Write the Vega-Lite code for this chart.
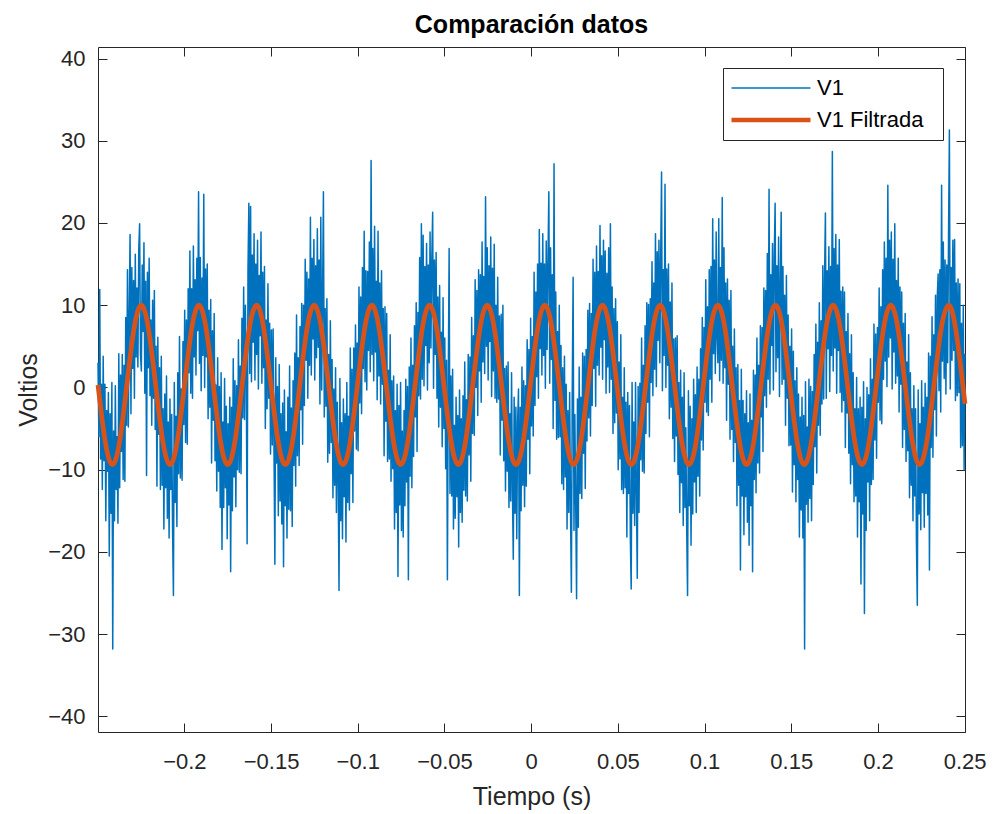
{
"$schema": "https://vega.github.io/schema/vega-lite/v6.json",
"width": 867, "height": 685,
"autosize": {"type": "none"},
"padding": {"left": 98, "top": 47, "right": 30, "bottom": 82},
"background": "white",
"title": {"text": "Comparación datos", "font": "Liberation Sans", "fontSize": 25, "fontWeight": "bold", "color": "#000000", "anchor": "middle", "frame": "group", "baseline": "alphabetic", "offset": -11},
"config": {
  "view": {"stroke": null},
  "axis": {"domainColor": "#262626", "tickColor": "#262626", "labelColor": "#262626", "titleColor": "#262626", "labelFont": "Liberation Sans", "titleFont": "Liberation Sans", "labelFontSize": 22, "titleFontSize": 25, "titleFontWeight": "normal", "grid": false, "tickSize": -9, "tickWidth": 1, "domainWidth": 1, "labelFlush": false, "labelOverlap": false}
},
"datasets": {
"raw": [
{"t":-0.2498,"v":3.0},{"t":-0.2493,"v":-6.0},{"t":-0.2488,"v":11.9},{"t":-0.2483,"v":-8.7},{"t":-0.2478,"v":0.4},{"t":-0.2473,"v":-12.4},{"t":-0.2468,"v":3.8},{"t":-0.2463,"v":-8.9},{"t":-0.2458,"v":0.4},{"t":-0.2453,"v":-16.2},
{"t":-0.2448,"v":-2.8},{"t":-0.2443,"v":-10.2},{"t":-0.2438,"v":-0.6},{"t":-0.2433,"v":-20.5},{"t":-0.2428,"v":-3.2},{"t":-0.2423,"v":-15.3},{"t":-0.2418,"v":0.6},{"t":-0.2413,"v":-31.8},{"t":-0.2408,"v":-5.3},{"t":-0.2403,"v":-16.2},
{"t":-0.2398,"v":0.2},{"t":-0.2393,"v":-12.4},{"t":-0.2388,"v":-6.0},{"t":-0.2383,"v":-16.5},{"t":-0.2378,"v":4.1},{"t":-0.2373,"v":-12.2},{"t":-0.2368,"v":1.5},{"t":-0.2363,"v":-7.8},{"t":-0.2358,"v":4.0},{"t":-0.2353,"v":-11.2},
{"t":-0.2348,"v":2.7},{"t":-0.2343,"v":-11.4},{"t":-0.2338,"v":8.5},{"t":-0.2333,"v":-4.6},{"t":-0.2328,"v":14.3},{"t":-0.2323,"v":-4.8},{"t":-0.2318,"v":9.1},{"t":-0.2313,"v":18.6},{"t":-0.2308,"v":-3.2},{"t":-0.2303,"v":14.6},
{"t":-0.2298,"v":2.3},{"t":-0.2293,"v":13.0},{"t":-0.2288,"v":-1.3},{"t":-0.2283,"v":16.2},{"t":-0.2278,"v":3.7},{"t":-0.2273,"v":12.1},{"t":-0.2268,"v":2.5},{"t":-0.2263,"v":16.7},{"t":-0.2258,"v":19.9},{"t":-0.2253,"v":4.0},
{"t":-0.2248,"v":2.0},{"t":-0.2243,"v":14.9},{"t":-0.2238,"v":6.8},{"t":-0.2233,"v":17.6},{"t":-0.2228,"v":-0.7},{"t":-0.2223,"v":12.9},{"t":-0.2218,"v":-10.7},{"t":-0.2213,"v":14.0},{"t":-0.2208,"v":2.4},{"t":-0.2203,"v":15.7},
{"t":-0.2198,"v":-1.0},{"t":-0.2193,"v":8.2},{"t":-0.2188,"v":-4.6},{"t":-0.2183,"v":10.6},{"t":-0.2178,"v":-1.3},{"t":-0.2173,"v":11.8},{"t":-0.2168,"v":-5.1},{"t":-0.2163,"v":5.0},{"t":-0.2158,"v":-12.0},{"t":-0.2153,"v":6.1},
{"t":-0.2148,"v":-5.7},{"t":-0.2143,"v":2.4},{"t":-0.2138,"v":-12.4},{"t":-0.2133,"v":3.8},{"t":-0.2128,"v":-11.9},{"t":-0.2123,"v":-2.6},{"t":-0.2118,"v":-17.2},{"t":-0.2113,"v":-0.8},{"t":-0.2108,"v":-12.2},{"t":-0.2103,"v":1.4},
{"t":-0.2098,"v":-15.9},{"t":-0.2093,"v":-4.2},{"t":-0.2088,"v":-18.3},{"t":-0.2083,"v":-1.4},{"t":-0.2078,"v":-12.4},{"t":-0.2073,"v":-3.3},{"t":-0.2068,"v":-17.2},{"t":-0.2063,"v":-25.3},{"t":-0.2058,"v":0.6},{"t":-0.2053,"v":-14.0},
{"t":-0.2048,"v":-3.5},{"t":-0.2043,"v":-16.9},{"t":-0.2038,"v":1.8},{"t":-0.2033,"v":-10.5},{"t":-0.2028,"v":6.2},{"t":-0.2023,"v":-11.0},{"t":-0.2018,"v":-0.2},{"t":-0.2013,"v":-11.3},{"t":-0.2008,"v":5.6},{"t":-0.2003,"v":-4.5},
{"t":-0.1998,"v":9.4},{"t":-0.1993,"v":-6.7},{"t":-0.1988,"v":8.2},{"t":-0.1983,"v":-6.9},{"t":-0.1978,"v":12.0},{"t":-0.1973,"v":1.8},{"t":-0.1968,"v":16.6},{"t":-0.1963,"v":-0.7},{"t":-0.1958,"v":12.0},{"t":-0.1953,"v":-1.3},
{"t":-0.1948,"v":17.2},{"t":-0.1943,"v":3.7},{"t":-0.1938,"v":13.1},{"t":-0.1933,"v":1.5},{"t":-0.1928,"v":15.7},{"t":-0.1923,"v":6.9},{"t":-0.1918,"v":23.8},{"t":-0.1913,"v":2.9},{"t":-0.1908,"v":15.8},{"t":-0.1903,"v":-0.4},
{"t":-0.1898,"v":13.3},{"t":-0.1893,"v":3.9},{"t":-0.1888,"v":23.5},{"t":-0.1883,"v":0.0},{"t":-0.1878,"v":14.4},{"t":-0.1873,"v":3.7},{"t":-0.1868,"v":15.0},{"t":-0.1863,"v":-3.8},{"t":-0.1858,"v":9.4},{"t":-0.1853,"v":-2.4},
{"t":-0.1848,"v":10.7},{"t":-0.1843,"v":-9.2},{"t":-0.1838,"v":6.9},{"t":-0.1833,"v":-4.0},{"t":-0.1828,"v":9.0},{"t":-0.1823,"v":-8.9},{"t":-0.1818,"v":0.3},{"t":-0.1813,"v":-12.6},{"t":-0.1808,"v":3.6},{"t":-0.1803,"v":-10.2},
{"t":-0.1798,"v":0.1},{"t":-0.1793,"v":-14.6},{"t":-0.1788,"v":1.8},{"t":-0.1783,"v":-19.7},{"t":-0.1778,"v":-4.2},{"t":-0.1773,"v":-14.6},{"t":-0.1768,"v":1.1},{"t":-0.1763,"v":-12.2},{"t":-0.1758,"v":-2.3},{"t":-0.1753,"v":-18.4},
{"t":-0.1748,"v":-4.4},{"t":-0.1743,"v":-14.3},{"t":-0.1738,"v":-1.2},{"t":-0.1733,"v":-22.4},{"t":-0.1728,"v":-2.4},{"t":-0.1723,"v":-15.0},{"t":-0.1718,"v":3.5},{"t":-0.1713,"v":-10.9},{"t":-0.1708,"v":0.8},{"t":-0.1703,"v":-14.5},
{"t":-0.1698,"v":0.2},{"t":-0.1693,"v":-10.0},{"t":-0.1688,"v":5.8},{"t":-0.1683,"v":-10.3},{"t":-0.1678,"v":2.6},{"t":-0.1673,"v":-10.5},{"t":-0.1668,"v":8.4},{"t":-0.1663,"v":-3.7},{"t":-0.1658,"v":12.2},{"t":-0.1653,"v":-3.9},
{"t":-0.1648,"v":10.0},{"t":-0.1643,"v":1.8},{"t":-0.1638,"v":-19.0},{"t":-0.1633,"v":14.3},{"t":-0.1628,"v":22.4},{"t":-0.1623,"v":1.7},{"t":-0.1618,"v":22.0},{"t":-0.1613,"v":0.7},{"t":-0.1608,"v":16.1},{"t":-0.1603,"v":5.5},
{"t":-0.1598,"v":18.7},{"t":-0.1593,"v":0.9},{"t":-0.1588,"v":15.0},{"t":-0.1583,"v":4.0},{"t":-0.1578,"v":17.9},{"t":-0.1573,"v":-0.2},{"t":-0.1568,"v":13.6},{"t":-0.1563,"v":6.3},{"t":-0.1558,"v":18.9},{"t":-0.1553,"v":0.5},
{"t":-0.1548,"v":14.0},{"t":-0.1543,"v":2.4},{"t":-0.1538,"v":14.7},{"t":-0.1533,"v":-5.0},{"t":-0.1528,"v":8.2},{"t":-0.1523,"v":-2.6},{"t":-0.1518,"v":12.6},{"t":-0.1513,"v":-1.3},{"t":-0.1508,"v":7.8},{"t":-0.1503,"v":-8.1},
{"t":-0.1498,"v":7.0},{"t":-0.1493,"v":-7.0},{"t":-0.1488,"v":7.1},{"t":-0.1483,"v":-7.7},{"t":-0.1478,"v":-21.5},{"t":-0.1473,"v":3.6},{"t":-0.1468,"v":-9.2},{"t":-0.1463,"v":0.1},{"t":-0.1458,"v":-15.6},{"t":-0.1453,"v":2.8},
{"t":-0.1448,"v":-13.8},{"t":-0.1443,"v":-3.2},{"t":-0.1438,"v":-16.6},{"t":-0.1433,"v":-1.9},{"t":-0.1428,"v":-21.8},{"t":-0.1423,"v":-0.3},{"t":-0.1418,"v":-14.4},{"t":-0.1413,"v":-5.4},{"t":-0.1408,"v":-18.3},{"t":-0.1403,"v":-1.2},
{"t":-0.1398,"v":-14.8},{"t":-0.1393,"v":2.6},{"t":-0.1388,"v":-15.0},{"t":-0.1383,"v":-2.5},{"t":-0.1378,"v":-16.9},{"t":-0.1373,"v":0.8},{"t":-0.1368,"v":-9.5},{"t":-0.1363,"v":4.2},{"t":-0.1358,"v":-12.0},{"t":-0.1353,"v":8.8},
{"t":-0.1348,"v":-8.3},{"t":-0.1343,"v":3.6},{"t":-0.1338,"v":-9.5},{"t":-0.1333,"v":7.4},{"t":-0.1328,"v":-2.7},{"t":-0.1323,"v":10.2},{"t":-0.1318,"v":-6.9},{"t":-0.1313,"v":10.0},{"t":-0.1308,"v":-2.2},{"t":-0.1303,"v":15.6},
{"t":-0.1298,"v":3.3},{"t":-0.1293,"v":14.0},{"t":-0.1288,"v":-1.3},{"t":-0.1283,"v":13.2},{"t":-0.1278,"v":2.7},{"t":-0.1273,"v":20.7},{"t":-0.1268,"v":1.5},{"t":-0.1263,"v":15.7},{"t":-0.1258,"v":5.9},{"t":-0.1253,"v":18.0},
{"t":-0.1248,"v":0.9},{"t":-0.1243,"v":14.8},{"t":-0.1238,"v":3.6},{"t":-0.1233,"v":19.3},{"t":-0.1228,"v":4.9},{"t":-0.1223,"v":15.5},{"t":-0.1218,"v":-2.0},{"t":-0.1213,"v":20.7},{"t":-0.1208,"v":-0.3},{"t":-0.1203,"v":11.0},
{"t":-0.1198,"v":23.8},{"t":-0.1193,"v":-3.6},{"t":-0.1188,"v":9.6},{"t":-0.1183,"v":-2.3},{"t":-0.1178,"v":10.8},{"t":-0.1173,"v":-9.1},{"t":-0.1168,"v":4.0},{"t":-0.1163,"v":-8.0},{"t":-0.1158,"v":8.1},{"t":-0.1153,"v":-6.7},
{"t":-0.1148,"v":3.4},{"t":-0.1143,"v":-13.4},{"t":-0.1138,"v":-0.2},{"t":-0.1133,"v":-11.9},{"t":-0.1128,"v":2.4},{"t":-0.1123,"v":-15.2},{"t":-0.1118,"v":-1.8},{"t":-0.1113,"v":-11.2},{"t":-0.1108,"v":-24.7},{"t":-0.1103,"v":1.1},
{"t":-0.1098,"v":-16.2},{"t":-0.1093,"v":-4.3},{"t":-0.1088,"v":-18.4},{"t":-0.1083,"v":-1.4},{"t":-0.1078,"v":-13.3},{"t":-0.1073,"v":-3.2},{"t":-0.1068,"v":-18.8},{"t":-0.1063,"v":0.6},{"t":-0.1058,"v":-14.0},{"t":-0.1053,"v":-3.5},
{"t":-0.1048,"v":-14.9},{"t":-0.1043,"v":4.8},{"t":-0.1038,"v":-10.5},{"t":-0.1033,"v":2.2},{"t":-0.1028,"v":-14.0},{"t":-0.1023,"v":4.8},{"t":-0.1018,"v":-5.3},{"t":-0.1013,"v":7.6},{"t":-0.1008,"v":-7.5},{"t":-0.1003,"v":5.4},
{"t":-0.0998,"v":-7.7},{"t":-0.0993,"v":12.2},{"t":-0.0988,"v":-1.9},{"t":-0.0983,"v":11.0},{"t":-0.0978,"v":-3.2},{"t":-0.0973,"v":14.6},{"t":-0.0968,"v":2.3},{"t":-0.0963,"v":19.0},{"t":-0.0958,"v":0.7},{"t":-0.0953,"v":14.2},
{"t":-0.0948,"v":-0.3},{"t":-0.0943,"v":14.1},{"t":-0.0938,"v":4.5},{"t":-0.0933,"v":17.7},{"t":-0.0928,"v":1.9},{"t":-0.0923,"v":27.6},{"t":-0.0918,"v":4.0},{"t":-0.0913,"v":16.9},{"t":-0.0908,"v":0.8},{"t":-0.0903,"v":19.6},
{"t":-0.0898,"v":4.3},{"t":-0.0893,"v":12.9},{"t":-0.0888,"v":-1.5},{"t":-0.0883,"v":19.0},{"t":-0.0878,"v":1.4},{"t":-0.0873,"v":12.7},{"t":-0.0868,"v":-2.0},{"t":-0.0863,"v":14.2},{"t":-0.0858,"v":0.4},{"t":-0.0853,"v":9.6},
{"t":-0.0848,"v":-8.3},{"t":-0.0843,"v":9.8},{"t":-0.0838,"v":-4.1},{"t":-0.0833,"v":9.0},{"t":-0.0828,"v":-9.0},{"t":-0.0823,"v":2.1},{"t":-0.0818,"v":-8.7},{"t":-0.0813,"v":6.4},{"t":-0.0808,"v":-11.4},{"t":-0.0803,"v":0.8},
{"t":-0.0798,"v":-9.9},{"t":-0.0793,"v":1.4},{"t":-0.0788,"v":-17.2},{"t":-0.0783,"v":-2.8},{"t":-0.0778,"v":-15.2},{"t":-0.0773,"v":0.4},{"t":-0.0768,"v":-23.0},{"t":-0.0763,"v":-2.2},{"t":-0.0758,"v":-14.3},{"t":-0.0753,"v":0.6},
{"t":-0.0748,"v":-17.4},{"t":-0.0743,"v":-5.3},{"t":-0.0738,"v":-18.2},{"t":-0.0733,"v":-2.8},{"t":-0.0728,"v":-14.4},{"t":-0.0723,"v":1.0},{"t":-0.0718,"v":-11.5},{"t":-0.0713,"v":0.1},{"t":-0.0708,"v":-23.4},{"t":-0.0703,"v":2.5},
{"t":-0.0698,"v":-10.8},{"t":-0.0693,"v":6.0},{"t":-0.0688,"v":-12.2},{"t":-0.0683,"v":2.7},{"t":-0.0678,"v":-8.4},{"t":-0.0673,"v":7.5},{"t":-0.0668,"v":-3.6},{"t":-0.0663,"v":10.3},{"t":-0.0658,"v":-7.8},{"t":-0.0653,"v":9.1},
{"t":-0.0648,"v":-1.0},{"t":-0.0643,"v":15.8},{"t":-0.0638,"v":-1.4},{"t":-0.0633,"v":19.9},{"t":-0.0628,"v":1.0},{"t":-0.0623,"v":18.5},{"t":-0.0618,"v":0.2},{"t":-0.0613,"v":14.7},{"t":-0.0608,"v":5.1},{"t":-0.0603,"v":17.5},
{"t":-0.0598,"v":-0.3},{"t":-0.0593,"v":14.9},{"t":-0.0588,"v":3.0},{"t":-0.0583,"v":18.9},{"t":-0.0578,"v":4.8},{"t":-0.0573,"v":15.6},{"t":-0.0568,"v":21.3},{"t":-0.0563,"v":-0.1},{"t":-0.0558,"v":15.5},{"t":-0.0553,"v":4.0},
{"t":-0.0548,"v":16.4},{"t":-0.0543,"v":-1.3},{"t":-0.0538,"v":11.0},{"t":-0.0533,"v":-4.8},{"t":-0.0528,"v":12.4},{"t":-0.0523,"v":-2.4},{"t":-0.0518,"v":6.7},{"t":-0.0513,"v":-7.2},{"t":-0.0508,"v":10.9},{"t":-0.0503,"v":-5.0},
{"t":-0.0498,"v":6.0},{"t":-0.0493,"v":-9.9},{"t":-0.0488,"v":3.3},{"t":-0.0483,"v":-23.4},{"t":-0.0478,"v":0.6},{"t":-0.0473,"v":16.9},{"t":-0.0468,"v":-12.9},{"t":-0.0463,"v":1.4},{"t":-0.0458,"v":-13.2},{"t":-0.0453,"v":2.2},
{"t":-0.0448,"v":-17.2},{"t":-0.0443,"v":-4.6},{"t":-0.0438,"v":-15.9},{"t":-0.0433,"v":-1.2},{"t":-0.0428,"v":-13.3},{"t":-0.0423,"v":-3.4},{"t":-0.0418,"v":-19.4},{"t":-0.0413,"v":-0.3},{"t":-0.0408,"v":-15.2},{"t":-0.0403,"v":-3.8},
{"t":-0.0398,"v":-16.4},{"t":-0.0393,"v":-1.0},{"t":-0.0388,"v":-12.5},{"t":-0.0383,"v":3.1},{"t":-0.0378,"v":-13.2},{"t":-0.0373,"v":-1.5},{"t":-0.0368,"v":-13.8},{"t":-0.0363,"v":4.0},{"t":-0.0358,"v":-8.2},{"t":-0.0353,"v":3.7},
{"t":-0.0348,"v":-11.4},{"t":-0.0343,"v":8.5},{"t":-0.0338,"v":-5.6},{"t":-0.0333,"v":6.3},{"t":-0.0328,"v":-5.8},{"t":-0.0323,"v":13.1},{"t":-0.0318,"v":0.0},{"t":-0.0313,"v":11.8},{"t":-0.0308,"v":-3.4},{"t":-0.0303,"v":14.3},
{"t":-0.0298,"v":2.0},{"t":-0.0293,"v":13.7},{"t":-0.0288,"v":-1.8},{"t":-0.0283,"v":17.7},{"t":-0.0278,"v":3.1},{"t":-0.0273,"v":13.5},{"t":-0.0268,"v":1.7},{"t":-0.0263,"v":23.2},{"t":-0.0258,"v":5.0},{"t":-0.0253,"v":17.0},
{"t":-0.0248,"v":0.9},{"t":-0.0243,"v":14.8},{"t":-0.0238,"v":5.6},{"t":-0.0233,"v":18.3},{"t":-0.0228,"v":-1.1},{"t":-0.0223,"v":14.5},{"t":-0.0218,"v":2.0},{"t":-0.0213,"v":17.4},{"t":-0.0208,"v":-1.3},{"t":-0.0203,"v":10.0},
{"t":-0.0198,"v":-1.8},{"t":-0.0193,"v":13.4},{"t":-0.0188,"v":-1.4},{"t":-0.0183,"v":8.7},{"t":-0.0178,"v":-8.2},{"t":-0.0173,"v":8.9},{"t":-0.0168,"v":-4.0},{"t":-0.0163,"v":10.0},{"t":-0.0158,"v":-8.9},{"t":-0.0153,"v":2.3},
{"t":-0.0148,"v":-12.6},{"t":-0.0143,"v":2.6},{"t":-0.0138,"v":-10.2},{"t":-0.0133,"v":3.1},{"t":-0.0128,"v":-14.6},{"t":-0.0123,"v":-3.2},{"t":-0.0118,"v":-13.8},{"t":-0.0113,"v":1.8},{"t":-0.0108,"v":-12.6},{"t":-0.0103,"v":-20.9},
{"t":-0.0098,"v":-1.2},{"t":-0.0093,"v":-15.3},{"t":-0.0088,"v":-2.4},{"t":-0.0083,"v":-18.4},{"t":-0.0078,"v":-4.3},{"t":-0.0073,"v":-0.2},{"t":-0.0068,"v":-25.3},{"t":-0.0063,"v":-2.4},{"t":-0.0058,"v":-15.0},{"t":-0.0053,"v":2.5},
{"t":-0.0048,"v":-11.9},{"t":-0.0043,"v":0.8},{"t":-0.0038,"v":-14.5},{"t":-0.0033,"v":0.2},{"t":-0.0028,"v":-12.0},{"t":-0.0023,"v":5.8},{"t":-0.0018,"v":-6.3},{"t":-0.0013,"v":4.6},{"t":-0.0008,"v":-10.5},{"t":-0.0003,"v":8.4},
{"t":0.0002,"v":-4.7},{"t":0.0007,"v":6.2},{"t":0.0012,"v":-5.9},{"t":0.0017,"v":14.0},{"t":0.0022,"v":-2.2},{"t":0.0027,"v":11.6},{"t":0.0032,"v":1.3},{"t":0.0037,"v":15.0},{"t":0.0042,"v":-1.3},{"t":0.0047,"v":19.2},
{"t":0.0052,"v":4.7},{"t":0.0057,"v":15.1},{"t":0.0062,"v":1.5},{"t":0.0067,"v":18.7},{"t":0.0072,"v":3.9},{"t":0.0077,"v":15.0},{"t":0.0082,"v":-0.1},{"t":0.0087,"v":17.8},{"t":0.0092,"v":4.6},{"t":0.0097,"v":15.3},
{"t":0.0102,"v":23.8},{"t":0.0107,"v":0.5},{"t":0.0112,"v":17.0},{"t":0.0117,"v":3.4},{"t":0.0122,"v":13.7},{"t":0.0127,"v":-5.0},{"t":0.0132,"v":27.2},{"t":0.0137,"v":-1.6},{"t":0.0142,"v":11.6},{"t":0.0147,"v":-6.3},
{"t":0.0152,"v":6.8},{"t":0.0157,"v":-6.1},{"t":0.0162,"v":10.0},{"t":0.0167,"v":-6.0},{"t":0.0172,"v":5.1},{"t":0.0177,"v":-11.7},{"t":0.0182,"v":2.4},{"t":0.0187,"v":-12.4},{"t":0.0192,"v":3.8},{"t":0.0197,"v":-10.9},
{"t":0.0202,"v":0.4},{"t":0.0207,"v":-17.2},{"t":0.0212,"v":-2.8},{"t":0.0217,"v":-15.2},{"t":0.0222,"v":-0.6},{"t":0.0227,"v":-14.9},{"t":0.0232,"v":-24.9},{"t":0.0237,"v":-0.3},{"t":0.0242,"v":13.4},{"t":0.0247,"v":-17.4},
{"t":0.0252,"v":-3.3},{"t":0.0257,"v":-14.2},{"t":0.0262,"v":-25.7},{"t":0.0267,"v":-1.4},{"t":0.0272,"v":-17.0},{"t":0.0277,"v":2.5},{"t":0.0282,"v":-12.9},{"t":0.0287,"v":-1.2},{"t":0.0292,"v":-13.5},{"t":0.0297,"v":4.2},
{"t":0.0302,"v":-8.0},{"t":0.0307,"v":3.8},{"t":0.0312,"v":-12.3},{"t":0.0317,"v":4.6},{"t":0.0322,"v":-6.5},{"t":0.0327,"v":9.4},{"t":0.0332,"v":-3.7},{"t":0.0337,"v":10.2},{"t":0.0342,"v":-5.9},{"t":0.0347,"v":9.0},
{"t":0.0352,"v":-2.2},{"t":0.0357,"v":15.6},{"t":0.0362,"v":2.3},{"t":0.0367,"v":14.0},{"t":0.0372,"v":-2.3},{"t":0.0377,"v":17.2},{"t":0.0382,"v":2.7},{"t":0.0387,"v":14.1},{"t":0.0392,"v":1.5},{"t":0.0397,"v":19.7},
{"t":0.0402,"v":4.9},{"t":0.0407,"v":16.0},{"t":0.0412,"v":1.0},{"t":0.0417,"v":17.9},{"t":0.0422,"v":5.8},{"t":0.0427,"v":16.6},{"t":0.0432,"v":-0.7},{"t":0.0437,"v":13.9},{"t":0.0442,"v":2.5},{"t":0.0447,"v":17.0},
{"t":0.0452,"v":-0.6},{"t":0.0457,"v":19.9},{"t":0.0462,"v":1.0},{"t":0.0467,"v":12.2},{"t":0.0472,"v":-5.6},{"t":0.0477,"v":9.6},{"t":0.0482,"v":-4.3},{"t":0.0487,"v":10.8},{"t":0.0492,"v":-3.1},{"t":0.0497,"v":8.0},
{"t":0.0502,"v":-10.0},{"t":0.0507,"v":3.1},{"t":0.0512,"v":-8.7},{"t":0.0517,"v":6.4},{"t":0.0522,"v":-12.4},{"t":0.0527,"v":-1.2},{"t":0.0532,"v":-12.9},{"t":0.0537,"v":2.4},{"t":0.0542,"v":-12.2},{"t":0.0547,"v":-1.8},
{"t":0.0552,"v":-18.2},{"t":0.0557,"v":-0.6},{"t":0.0562,"v":-12.9},{"t":0.0567,"v":-2.2},{"t":0.0572,"v":-18.3},{"t":0.0577,"v":-24.5},{"t":0.0582,"v":0.6},{"t":0.0587,"v":-15.3},{"t":0.0592,"v":-4.2},{"t":0.0597,"v":-16.8},
{"t":0.0602,"v":0.6},{"t":0.0607,"v":-13.0},{"t":0.0612,"v":-23.2},{"t":0.0617,"v":0.1},{"t":0.0622,"v":-15.2},{"t":0.0627,"v":0.5},{"t":0.0632,"v":-8.8},{"t":0.0637,"v":6.0},{"t":0.0642,"v":-10.2},{"t":0.0647,"v":2.7},
{"t":0.0652,"v":-10.4},{"t":0.0657,"v":7.5},{"t":0.0662,"v":-5.6},{"t":0.0667,"v":10.3},{"t":0.0672,"v":-1.8},{"t":0.0677,"v":10.1},{"t":0.0682,"v":-6.0},{"t":0.0687,"v":10.8},{"t":0.0692,"v":0.6},{"t":0.0697,"v":15.3},
{"t":0.0702,"v":-1.0},{"t":0.0707,"v":12.7},{"t":0.0712,"v":2.2},{"t":0.0717,"v":18.7},{"t":0.0722,"v":0.1},{"t":0.0727,"v":16.5},{"t":0.0732,"v":5.7},{"t":0.0737,"v":17.9},{"t":0.0742,"v":3.0},{"t":0.0747,"v":15.9},
{"t":0.0752,"v":26.2},{"t":0.0757,"v":-0.4},{"t":0.0762,"v":14.3},{"t":0.0767,"v":3.9},{"t":0.0772,"v":24.7},{"t":0.0777,"v":0.0},{"t":0.0782,"v":14.4},{"t":0.0787,"v":2.7},{"t":0.0792,"v":15.0},{"t":0.0797,"v":-3.8},
{"t":0.0802,"v":10.4},{"t":0.0807,"v":-2.4},{"t":0.0812,"v":12.7},{"t":0.0817,"v":-6.2},{"t":0.0822,"v":5.9},{"t":0.0827,"v":-9.0},{"t":0.0832,"v":6.0},{"t":0.0837,"v":-5.9},{"t":0.0842,"v":6.3},{"t":0.0847,"v":-10.6},
{"t":0.0852,"v":0.6},{"t":0.0857,"v":-15.2},{"t":0.0862,"v":2.1},{"t":0.0867,"v":-11.6},{"t":0.0872,"v":-1.2},{"t":0.0877,"v":-16.8},{"t":0.0882,"v":1.8},{"t":0.0887,"v":-14.6},{"t":0.0892,"v":-4.9},{"t":0.0897,"v":-17.2},
{"t":0.0902,"v":-25.3},{"t":0.0907,"v":-0.4},{"t":0.0912,"v":-14.4},{"t":0.0917,"v":-2.3},{"t":0.0922,"v":-19.2},{"t":0.0927,"v":-3.8},{"t":0.0932,"v":-15.4},{"t":0.0937,"v":1.0},{"t":0.0942,"v":-11.5},{"t":0.0947,"v":-0.9},
{"t":0.0952,"v":-15.2},{"t":0.0957,"v":2.5},{"t":0.0962,"v":-10.8},{"t":0.0967,"v":1.0},{"t":0.0972,"v":-13.2},{"t":0.0977,"v":4.7},{"t":0.0982,"v":-6.4},{"t":0.0987,"v":8.5},{"t":0.0992,"v":-7.6},{"t":0.0997,"v":7.3},
{"t":0.1002,"v":-1.8},{"t":0.1007,"v":13.1},{"t":0.1012,"v":-3.0},{"t":0.1017,"v":9.8},{"t":0.1022,"v":-3.4},{"t":0.1027,"v":14.3},{"t":0.1032,"v":1.0},{"t":0.1037,"v":14.7},{"t":0.1042,"v":-1.8},{"t":0.1047,"v":20.5},
{"t":0.1052,"v":4.1},{"t":0.1057,"v":15.5},{"t":0.1062,"v":1.7},{"t":0.1067,"v":18.9},{"t":0.1072,"v":6.0},{"t":0.1077,"v":3.0},{"t":0.1082,"v":20.5},{"t":0.1087,"v":0.8},{"t":0.1092,"v":14.6},{"t":0.1097,"v":3.3},
{"t":0.1102,"v":23.1},{"t":0.1107,"v":0.5},{"t":0.1112,"v":17.0},{"t":0.1117,"v":2.4},{"t":0.1122,"v":12.7},{"t":0.1127,"v":-4.0},{"t":0.1132,"v":13.2},{"t":0.1137,"v":0.4},{"t":0.1142,"v":10.6},{"t":0.1147,"v":-6.3},
{"t":0.1152,"v":11.8},{"t":0.1157,"v":-5.1},{"t":0.1162,"v":5.0},{"t":0.1167,"v":-9.0},{"t":0.1172,"v":7.1},{"t":0.1177,"v":-6.7},{"t":0.1182,"v":2.4},{"t":0.1187,"v":-14.4},{"t":0.1192,"v":2.8},{"t":0.1197,"v":-11.9},
{"t":0.1202,"v":-1.6},{"t":0.1207,"v":-22.2},{"t":0.1212,"v":2.2},{"t":0.1217,"v":-13.2},{"t":0.1222,"v":-1.6},{"t":0.1227,"v":-17.9},{"t":0.1232,"v":-3.2},{"t":0.1237,"v":-13.3},{"t":0.1242,"v":-0.4},{"t":0.1247,"v":-16.4},
{"t":0.1252,"v":-4.3},{"t":0.1257,"v":-19.2},{"t":0.1262,"v":-0.8},{"t":0.1267,"v":-14.4},{"t":0.1272,"v":-4.0},{"t":0.1277,"v":-22.4},{"t":0.1282,"v":2.1},{"t":0.1287,"v":-11.2},{"t":0.1292,"v":1.5},{"t":0.1297,"v":-12.8},
{"t":0.1302,"v":6.0},{"t":0.1307,"v":-9.2},{"t":0.1312,"v":2.7},{"t":0.1317,"v":-10.4},{"t":0.1322,"v":7.5},{"t":0.1327,"v":-3.6},{"t":0.1332,"v":7.3},{"t":0.1337,"v":-7.8},{"t":0.1342,"v":12.1},{"t":0.1347,"v":-1.0},
{"t":0.1352,"v":11.8},{"t":0.1357,"v":-2.4},{"t":0.1362,"v":16.3},{"t":0.1367,"v":1.0},{"t":0.1372,"v":24.1},{"t":0.1377,"v":-0.8},{"t":0.1382,"v":13.7},{"t":0.1387,"v":5.1},{"t":0.1392,"v":17.5},{"t":0.1397,"v":-0.3},
{"t":0.1402,"v":15.9},{"t":0.1407,"v":22.4},{"t":0.1412,"v":1.9},{"t":0.1417,"v":14.8},{"t":0.1422,"v":3.6},{"t":0.1427,"v":18.3},{"t":0.1432,"v":-1.1},{"t":0.1437,"v":12.5},{"t":0.1442,"v":21.3},{"t":0.1447,"v":0.4},
{"t":0.1452,"v":14.7},{"t":0.1457,"v":1.0},{"t":0.1462,"v":11.2},{"t":0.1467,"v":-4.6},{"t":0.1472,"v":13.6},{"t":0.1477,"v":-1.3},{"t":0.1482,"v":8.8},{"t":0.1487,"v":-7.1},{"t":0.1492,"v":5.0},{"t":0.1497,"v":-7.0},
{"t":0.1502,"v":7.1},{"t":0.1507,"v":-12.7},{"t":0.1512,"v":4.4},{"t":0.1517,"v":-9.4},{"t":0.1522,"v":0.8},{"t":0.1527,"v":-13.9},{"t":0.1532,"v":2.4},{"t":0.1537,"v":-11.2},{"t":0.1542,"v":-0.8},{"t":0.1547,"v":-18.2},
{"t":0.1552,"v":-3.6},{"t":0.1557,"v":-14.9},{"t":0.1562,"v":-1.2},{"t":0.1567,"v":-18.3},{"t":0.1572,"v":-3.4},{"t":0.1577,"v":-31.8},{"t":0.1582,"v":0.7},{"t":0.1587,"v":-14.2},{"t":0.1592,"v":-4.8},{"t":0.1597,"v":-16.4},
{"t":0.1602,"v":1.0},{"t":0.1607,"v":-13.5},{"t":0.1612,"v":0.1},{"t":0.1617,"v":-16.2},{"t":0.1622,"v":-0.5},{"t":0.1627,"v":-11.8},{"t":0.1632,"v":4.0},{"t":0.1637,"v":-7.2},{"t":0.1642,"v":7.7},{"t":0.1647,"v":-10.4},
{"t":0.1652,"v":5.5},{"t":0.1657,"v":-4.6},{"t":0.1662,"v":10.3},{"t":0.1667,"v":-5.8},{"t":0.1672,"v":8.1},{"t":0.1677,"v":-2.0},{"t":0.1682,"v":14.8},{"t":0.1687,"v":-1.4},{"t":0.1692,"v":13.3},{"t":0.1697,"v":21.2},
{"t":0.1702,"v":-1.3},{"t":0.1707,"v":14.2},{"t":0.1712,"v":4.7},{"t":0.1717,"v":17.1},{"t":0.1722,"v":-0.5},{"t":0.1727,"v":14.7},{"t":0.1732,"v":3.9},{"t":0.1737,"v":28.7},{"t":0.1742,"v":2.0},{"t":0.1747,"v":16.9},
{"t":0.1752,"v":4.8},{"t":0.1757,"v":18.6},{"t":0.1762,"v":-0.7},{"t":0.1767,"v":14.9},{"t":0.1772,"v":4.5},{"t":0.1777,"v":18.0},{"t":0.1782,"v":-0.6},{"t":0.1787,"v":11.7},{"t":0.1792,"v":-3.0},{"t":0.1797,"v":12.2},
{"t":0.1802,"v":-1.6},{"t":0.1807,"v":11.6},{"t":0.1812,"v":-7.3},{"t":0.1817,"v":6.8},{"t":0.1822,"v":-3.1},{"t":0.1827,"v":9.0},{"t":0.1832,"v":-8.0},{"t":0.1837,"v":4.1},{"t":0.1842,"v":-11.7},{"t":0.1847,"v":6.4},
{"t":0.1852,"v":-9.4},{"t":0.1857,"v":1.8},{"t":0.1862,"v":-13.9},{"t":0.1867,"v":-2.6},{"t":0.1872,"v":-13.2},{"t":0.1877,"v":1.2},{"t":0.1882,"v":-18.2},{"t":0.1887,"v":-2.6},{"t":0.1892,"v":-13.9},{"t":0.1897,"v":-1.2},
{"t":0.1902,"v":-23.9},{"t":0.1907,"v":-2.4},{"t":0.1912,"v":-15.4},{"t":0.1917,"v":0.7},{"t":0.1922,"v":-27.5},{"t":0.1927,"v":-3.8},{"t":0.1932,"v":-17.4},{"t":0.1937,"v":0.0},{"t":0.1942,"v":-11.5},{"t":0.1947,"v":-0.9},
{"t":0.1952,"v":-16.2},{"t":0.1957,"v":3.5},{"t":0.1962,"v":-11.8},{"t":0.1967,"v":1.0},{"t":0.1972,"v":-11.2},{"t":0.1977,"v":7.7},{"t":0.1982,"v":-6.4},{"t":0.1987,"v":6.5},{"t":0.1992,"v":-8.6},{"t":0.1997,"v":7.3},
{"t":0.2002,"v":-1.8},{"t":0.2007,"v":12.1},{"t":0.2012,"v":-4.0},{"t":0.2017,"v":9.8},{"t":0.2022,"v":-4.4},{"t":0.2027,"v":14.3},{"t":0.2032,"v":1.0},{"t":0.2037,"v":17.7},{"t":0.2042,"v":3.2},{"t":0.2047,"v":15.7},
{"t":0.2052,"v":0.1},{"t":0.2057,"v":24.6},{"t":0.2062,"v":3.7},{"t":0.2067,"v":17.9},{"t":0.2072,"v":6.0},{"t":0.2077,"v":18.9},{"t":0.2082,"v":-0.2},{"t":0.2087,"v":15.6},{"t":0.2092,"v":4.3},{"t":0.2097,"v":19.9},
{"t":0.2102,"v":0.5},{"t":0.2107,"v":13.0},{"t":0.2112,"v":1.4},{"t":0.2117,"v":15.7},{"t":0.2122,"v":-3.0},{"t":0.2127,"v":12.2},{"t":0.2132,"v":0.4},{"t":0.2137,"v":11.6},{"t":0.2142,"v":-7.3},{"t":0.2147,"v":7.8},
{"t":0.2152,"v":-5.1},{"t":0.2157,"v":9.0},{"t":0.2162,"v":-9.0},{"t":0.2167,"v":3.1},{"t":0.2172,"v":-7.7},{"t":0.2177,"v":6.4},{"t":0.2182,"v":-13.4},{"t":0.2187,"v":1.8},{"t":0.2192,"v":-11.9},{"t":0.2197,"v":-2.6},
{"t":0.2202,"v":-16.2},{"t":0.2207,"v":0.2},{"t":0.2212,"v":-13.2},{"t":0.2217,"v":-2.6},{"t":0.2222,"v":-18.9},{"t":0.2227,"v":-26.5},{"t":0.2232,"v":-0.3},{"t":0.2237,"v":-15.4},{"t":0.2242,"v":-4.4},{"t":0.2247,"v":-17.3},
{"t":0.2252,"v":0.8},{"t":0.2257,"v":-12.8},{"t":0.2262,"v":-2.4},{"t":0.2267,"v":-17.0},{"t":0.2272,"v":0.5},{"t":0.2277,"v":-12.9},{"t":0.2282,"v":-1.2},{"t":0.2287,"v":-15.5},{"t":0.2292,"v":4.2},{"t":0.2297,"v":-22.2},
{"t":0.2302,"v":3.8},{"t":0.2307,"v":-7.3},{"t":0.2312,"v":8.6},{"t":0.2317,"v":-8.5},{"t":0.2322,"v":6.4},{"t":0.2327,"v":-2.7},{"t":0.2332,"v":11.2},{"t":0.2337,"v":-5.9},{"t":0.2342,"v":11.0},{"t":0.2347,"v":13.8},
{"t":0.2352,"v":-0.4},{"t":0.2357,"v":14.3},{"t":0.2362,"v":-3.0},{"t":0.2367,"v":24.6},{"t":0.2372,"v":3.2},{"t":0.2377,"v":17.7},{"t":0.2382,"v":1.1},{"t":0.2387,"v":15.5},{"t":0.2392,"v":-0.8},{"t":0.2397,"v":14.9},
{"t":0.2402,"v":3.0},{"t":0.2407,"v":18.2},{"t":0.2412,"v":31.3},{"t":0.2417,"v":-0.2},{"t":0.2422,"v":14.6},{"t":0.2427,"v":3.3},{"t":0.2432,"v":17.9},{"t":0.2437,"v":4.5},{"t":0.2442,"v":18.0},{"t":0.2447,"v":-1.6},
{"t":0.2452,"v":12.7},{"t":0.2457,"v":-1.0},{"t":0.2462,"v":13.2},{"t":0.2467,"v":-0.6},{"t":0.2472,"v":12.6},{"t":0.2477,"v":-7.3},{"t":0.2482,"v":7.8},{"t":0.2487,"v":-7.1},{"t":0.2492,"v":10.0},{"t":0.2497,"v":-10.0},
{"t":0.2502,"v":4.1}
],
"filt": [
{"t":-0.2498,"v":0.30},{"t":-0.24564,"v":-6.56},{"t":-0.24149,"v":-9.40},{"t":-0.23733,"v":-6.56},{"t":-0.23317,"v":0.30},{"t":-0.22902,"v":7.16},{"t":-0.22486,"v":10.0},{"t":-0.22071,"v":7.16},
{"t":-0.21655,"v":0.30},{"t":-0.21239,"v":-6.56},{"t":-0.20824,"v":-9.40},{"t":-0.20408,"v":-6.56},{"t":-0.19992,"v":0.30},{"t":-0.19577,"v":7.16},{"t":-0.19161,"v":10.0},{"t":-0.18746,"v":7.16},
{"t":-0.1833,"v":0.30},{"t":-0.17914,"v":-6.56},{"t":-0.17499,"v":-9.40},{"t":-0.17083,"v":-6.56},{"t":-0.16667,"v":0.30},{"t":-0.16252,"v":7.16},{"t":-0.15836,"v":10.0},{"t":-0.15421,"v":7.16},
{"t":-0.15005,"v":0.30},{"t":-0.14589,"v":-6.56},{"t":-0.14174,"v":-9.40},{"t":-0.13758,"v":-6.56},{"t":-0.13342,"v":0.30},{"t":-0.12927,"v":7.16},{"t":-0.12511,"v":10.0},{"t":-0.12096,"v":7.16},
{"t":-0.1168,"v":0.30},{"t":-0.11264,"v":-6.56},{"t":-0.10849,"v":-9.40},{"t":-0.10433,"v":-6.56},{"t":-0.10017,"v":0.30},{"t":-0.09602,"v":7.16},{"t":-0.09186,"v":10.0},{"t":-0.08771,"v":7.16},
{"t":-0.08355,"v":0.30},{"t":-0.07939,"v":-6.56},{"t":-0.07524,"v":-9.40},{"t":-0.07108,"v":-6.56},{"t":-0.06692,"v":0.30},{"t":-0.06277,"v":7.16},{"t":-0.05861,"v":10.0},{"t":-0.05446,"v":7.16},
{"t":-0.0503,"v":0.30},{"t":-0.04614,"v":-6.56},{"t":-0.04199,"v":-9.40},{"t":-0.03783,"v":-6.56},{"t":-0.03367,"v":0.30},{"t":-0.02952,"v":7.16},{"t":-0.02536,"v":10.0},{"t":-0.02121,"v":7.16},
{"t":-0.01705,"v":0.30},{"t":-0.01289,"v":-6.56},{"t":-0.00874,"v":-9.40},{"t":-0.00458,"v":-6.56},{"t":-0.00042,"v":0.30},{"t":0.00373,"v":7.16},{"t":0.00789,"v":10.0},{"t":0.01204,"v":7.16},
{"t":0.0162,"v":0.30},{"t":0.02036,"v":-6.56},{"t":0.02451,"v":-9.40},{"t":0.02867,"v":-6.56},{"t":0.03283,"v":0.30},{"t":0.03698,"v":7.16},{"t":0.04114,"v":10.0},{"t":0.04529,"v":7.16},
{"t":0.04945,"v":0.30},{"t":0.05361,"v":-6.56},{"t":0.05776,"v":-9.40},{"t":0.06192,"v":-6.56},{"t":0.06608,"v":0.30},{"t":0.07023,"v":7.16},{"t":0.07439,"v":10.0},{"t":0.07854,"v":7.16},
{"t":0.0827,"v":0.30},{"t":0.08686,"v":-6.56},{"t":0.09101,"v":-9.40},{"t":0.09517,"v":-6.56},{"t":0.09933,"v":0.30},{"t":0.10348,"v":7.16},{"t":0.10764,"v":10.0},{"t":0.11179,"v":7.16},
{"t":0.11595,"v":0.30},{"t":0.12011,"v":-6.56},{"t":0.12426,"v":-9.40},{"t":0.12842,"v":-6.56},{"t":0.13258,"v":0.30},{"t":0.13673,"v":7.16},{"t":0.14089,"v":10.0},{"t":0.14504,"v":7.16},
{"t":0.1492,"v":0.30},{"t":0.15336,"v":-6.56},{"t":0.15751,"v":-9.40},{"t":0.16167,"v":-6.56},{"t":0.16583,"v":0.30},{"t":0.16998,"v":7.16},{"t":0.17414,"v":10.0},{"t":0.17829,"v":7.16},
{"t":0.18245,"v":0.30},{"t":0.18661,"v":-6.56},{"t":0.19076,"v":-9.40},{"t":0.19492,"v":-6.56},{"t":0.19908,"v":0.30},{"t":0.20323,"v":7.16},{"t":0.20739,"v":10.0},{"t":0.21154,"v":7.16},
{"t":0.2157,"v":0.30},{"t":0.21986,"v":-6.56},{"t":0.22401,"v":-9.40},{"t":0.22817,"v":-6.56},{"t":0.23233,"v":0.30},{"t":0.23648,"v":7.16},{"t":0.24064,"v":10.0},{"t":0.24479,"v":7.16},
{"t":0.24895,"v":0.30},{"t":0.2502,"v":-2.0}
]
},
"layer": [
{
  "data": {"name": "raw"},
  "mark": {"type": "line", "strokeJoin": "round"},
  "encoding": {
    "x": {"field": "t", "type": "quantitative", "scale": {"domain": [-0.2498, 0.2502], "nice": false, "zero": false},
          "axis": {"orient": "bottom", "values": [-0.2, -0.15, -0.1, -0.05, 0, 0.05, 0.1, 0.15, 0.2, 0.25], "format": ".2~f", "labelPadding": 28, "title": "Tiempo (s)", "titlePadding": 12}},
    "y": {"field": "v", "type": "quantitative", "scale": {"domain": [-41.9, 41.4], "nice": false, "zero": false},
          "axis": {"orient": "left", "values": [-40, -30, -20, -10, 0, 10, 20, 30, 40], "labelPadding": 22, "title": "Voltios", "titlePadding": 6}},
    "color": {"datum": "V1", "type": "nominal", "scale": {"domain": ["V1", "V1 Filtrada"], "range": ["#0072BD", "#D95319"]},
      "legend": {"title": "\u00a0", "titleOrient": "right", "titlePadding": 16, "titleFontSize": 22, "orient": "none", "legendX": 625, "legendY": 21, "padding": 4, "symbolType": "stroke", "symbolSize": 6241, "symbolOffset": 2, "clipHeight": 32, "rowPadding": 0, "labelOffset": 4, "labelFontSize": 22, "labelFont": "Liberation Sans", "labelColor": "#000000", "strokeColor": "#262626", "fillColor": "#ffffff"}},
    "strokeWidth": {"datum": "V1", "type": "ordinal", "scale": {"domain": ["V1", "V1 Filtrada"], "range": [1.5, 4.7]},
      "legend": {"title": "\u00a0", "titleOrient": "right", "titlePadding": 16, "titleFontSize": 22, "orient": "none", "legendX": 625, "legendY": 21, "padding": 4, "symbolType": "stroke", "symbolSize": 6241, "symbolOffset": 2, "clipHeight": 32, "rowPadding": 0, "labelOffset": 4, "labelFontSize": 22, "labelFont": "Liberation Sans", "labelColor": "#000000", "strokeColor": "#262626", "fillColor": "#ffffff"}}
  }
},
{
  "data": {"name": "filt"},
  "mark": {"type": "line", "interpolate": "natural"},
  "encoding": {
    "x": {"field": "t", "type": "quantitative", "axis": {"orient": "top", "values": [-0.2, -0.15, -0.1, -0.05, 0, 0.05, 0.1, 0.15, 0.2, 0.25], "labels": false, "title": null}},
    "y": {"field": "v", "type": "quantitative", "axis": {"orient": "right", "values": [-40, -30, -20, -10, 0, 10, 20, 30, 40], "labels": false, "title": null}},
    "color": {"datum": "V1 Filtrada", "type": "nominal"},
    "strokeWidth": {"datum": "V1 Filtrada", "type": "ordinal"}
  }
}
]
}
